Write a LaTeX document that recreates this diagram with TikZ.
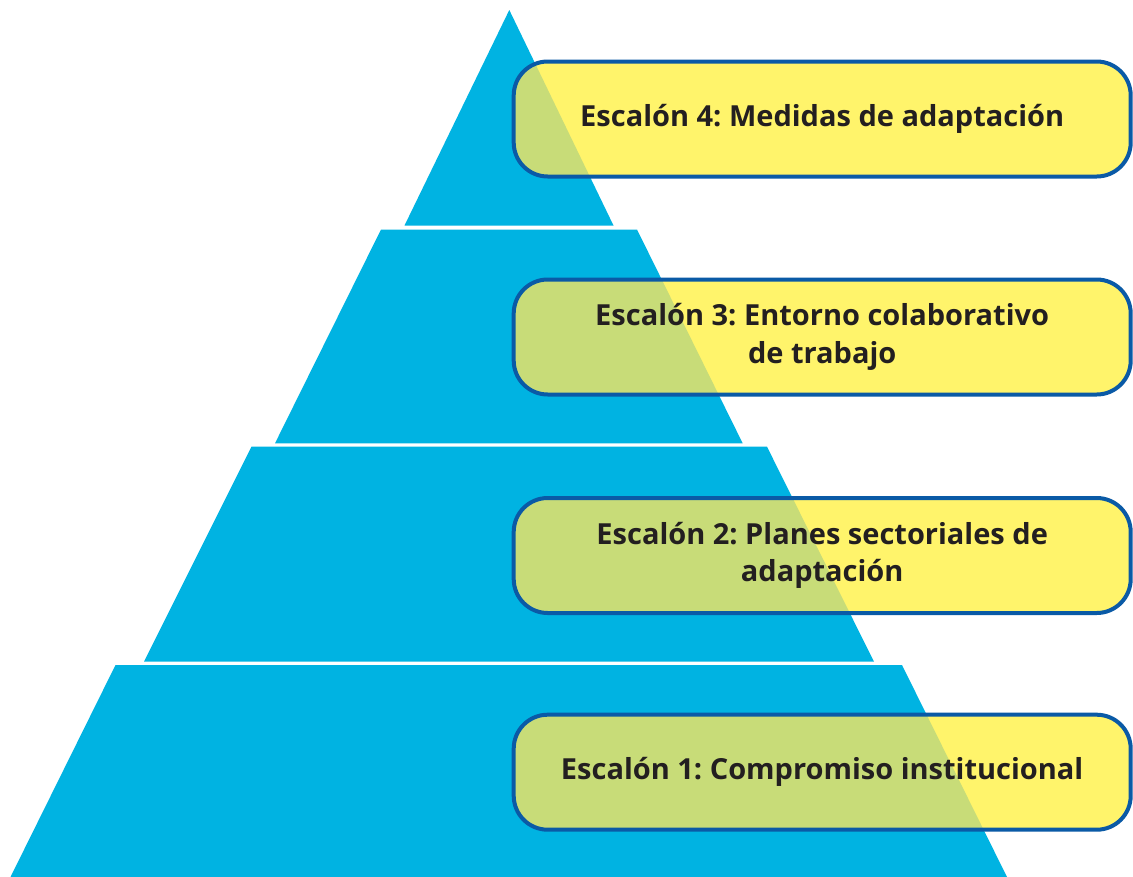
\documentclass[tikz,border=0pt]{standalone}
\usepackage{fontspec}
\setmainfont{Open Sans}
\definecolor{pyr}{HTML}{00B3E2}
\definecolor{yel}{HTML}{FFF46B}
\definecolor{grn}{HTML}{C8DC78}
\definecolor{bord}{HTML}{0A5AA6}
\definecolor{txt}{HTML}{231F20}
\tikzset{
  tier/.style={fill=pyr},
  overlap/.style={fill=grn},
  boxfill/.style={fill=yel, rounded corners=34pt},
  stepbox/.style={draw=bord, line width=4pt, rounded corners=34pt,
    rectangle, minimum width=617pt, minimum height=115pt, inner sep=0pt,
    align=center, text=txt, font=\bfseries\frenchspacing\fontsize{29}{37.5}\selectfont},
}
\newcommand{\pyramidpath}{%
  (509.3,10) -- (613.5,225.5) -- (404.5,225.5) -- cycle
  (381,229.5) -- (637,229.5) -- (742.7,443.3) -- (275,443.3) -- cycle
  (251.5,446.7) -- (767,446.7) -- (874,661.7) -- (144,661.7) -- cycle
  (115.5,665) -- (902,665) -- (1007,877) -- (10.5,877) -- cycle}
\newcommand{\boxrect}[1]{(513.7,#1-57.5) rectangle (1130.7,#1+57.5)}
\frenchspacing
\begin{document}
\begin{tikzpicture}[x=1pt,y=-1pt]
\useasboundingbox[fill=white] (0,0) rectangle (1133,876);
\fill[tier] \pyramidpath;
\foreach \yc in {119,337,555.5,772.2}{
  \fill[boxfill] \boxrect{\yc};
  \begin{scope}
    \clip[rounded corners=34pt] \boxrect{\yc};
    \fill[overlap] \pyramidpath;
  \end{scope}
}
\node[stepbox] (s4) at (822.2,119) {Escalón 4: Medidas de adaptación};
\node[stepbox] (s3) at (822.2,337) {Escalón 3: Entorno colaborativo\\de trabajo};
\node[stepbox] (s2) at (822.2,555.5) {Escalón 2: Planes sectoriales de\\adaptación};
\node[stepbox] (s1) at (822.2,772.2) {Escalón 1: Compromiso institucional};
\end{tikzpicture}
\end{document}
